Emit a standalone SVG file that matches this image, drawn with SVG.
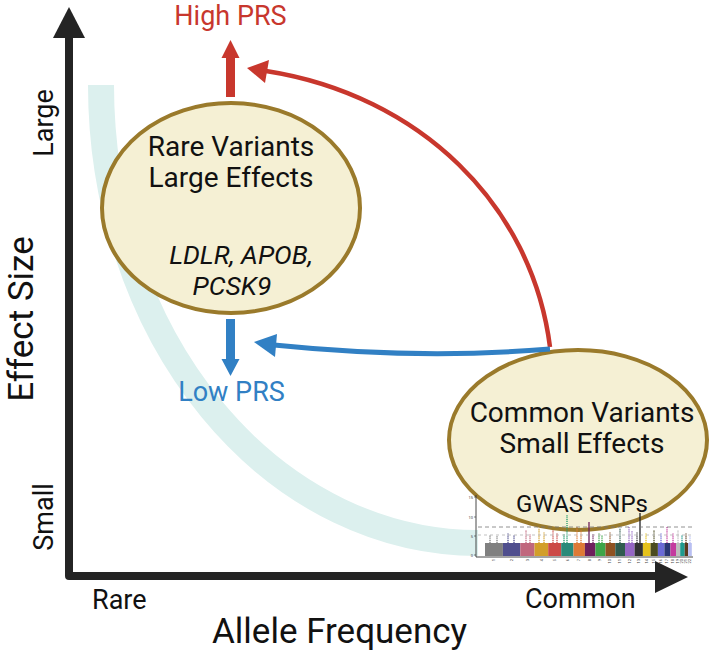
<svg xmlns="http://www.w3.org/2000/svg" width="717" height="651" viewBox="0 0 717 651">
<style>
  text { font-family: Roboto, "Liberation Sans", sans-serif; }
  .axis { fill: none; stroke: #242424; stroke-width: 8; stroke-linejoin: round; stroke-linecap: butt; }
  .axhead { fill: #242424; }
  .band { fill: none; stroke: #dcf0ee; stroke-width: 26; stroke-linecap: butt; }
  .node { fill: #f5f0d4; stroke: #9a7a2b; stroke-width: 4; }
  .lbl { fill: #111; font-size: 28px; text-anchor: middle; }
  .gene { fill: #111; font-size: 26.5px; font-style: italic; text-anchor: middle; }
  .axlbl { fill: #111; font-size: 27px; }
  .red { fill: #c8372d; }
  .blue { fill: #3180c4; }
  .redline { fill: none; stroke: #c8372d; stroke-width: 4.5; }
  .blueline { fill: none; stroke: #3180c4; stroke-width: 5; }
  .prs { font-size: 27px; text-anchor: middle; }
  .bar { stroke: none; }
  .dots { stroke-width: 1.3; stroke-dasharray: 1.2 0.9; fill: none; }
  .tick { font-size: 4px; fill: #444; }
</style>

<g id="effect-band">
  <path class="band" d="M 101 85 A 377 458 0 0 0 478 543"/>
</g>

<g id="axes">
  <path class="axis" d="M 69 36 L 69 576 L 658 576"/>
  <polygon class="axhead" points="69,7 85,38 53,38"/>
  <polygon class="axhead" points="688,577 655,561 655,593"/>
  <text transform="translate(33,319) rotate(-90)" font-size="35" fill="#111" text-anchor="middle">Effect Size</text>
  <text class="axlbl" transform="translate(53,123) rotate(-90)" text-anchor="middle">Large</text>
  <text class="axlbl" transform="translate(53,517) rotate(-90)" text-anchor="middle">Small</text>
  <text class="axlbl" x="92" y="609">Rare</text>
  <text class="axlbl" x="525" y="608">Common</text>
  <text x="212" y="643" font-size="35" fill="#111">Allele Frequency</text>
</g>

<g id="node-rare">
  <ellipse class="node" cx="231" cy="208" rx="129" ry="105"/>
  <text class="lbl" x="231" y="156">Rare Variants</text>
  <text class="lbl" x="231" y="187">Large Effects</text>
  <text class="gene" x="241" y="264">LDLR, APOB,</text>
  <text class="gene" x="232" y="295">PCSK9</text>
</g>

<g id="node-common">
  <ellipse class="node" cx="578" cy="440" rx="129" ry="90"/>
  <text class="lbl" x="582" y="422">Common Variants</text>
  <text class="lbl" x="582" y="453">Small Effects</text>
  <text x="582" y="512" font-size="24" fill="#111" text-anchor="middle">GWAS SNPs</text>
</g>

<g id="manhattan-plot">
  <g id="chrom-bars">
    <rect class="bar" x="485" y="543" width="17.9" height="13" fill="#808080"/>
    <rect class="bar" x="502.9" y="543" width="17.4" height="13" fill="#4f4e8e"/>
    <rect class="bar" x="520.3" y="543" width="14.2" height="13" fill="#c0677d"/>
    <rect class="bar" x="534.5" y="543" width="13.7" height="13" fill="#d29e2a"/>
    <rect class="bar" x="548.2" y="543" width="13" height="13" fill="#cc4a47"/>
    <rect class="bar" x="561.2" y="543" width="12.3" height="13" fill="#2a8a7a"/>
    <rect class="bar" x="573.5" y="543" width="11.4" height="13" fill="#df7a36"/>
    <rect class="bar" x="584.9" y="543" width="10.5" height="13" fill="#6e1f5c"/>
    <rect class="bar" x="595.4" y="543" width="10.1" height="13" fill="#3da548"/>
    <rect class="bar" x="605.5" y="543" width="9.8" height="13" fill="#8f5222"/>
    <rect class="bar" x="615.3" y="543" width="9.7" height="13" fill="#2f5b4f"/>
    <rect class="bar" x="625" y="543" width="9.6" height="13" fill="#9566c4"/>
    <rect class="bar" x="634.6" y="543" width="8.3" height="13" fill="#333333"/>
    <rect class="bar" x="642.9" y="543" width="7.7" height="13" fill="#e5c21b"/>
    <rect class="bar" x="650.6" y="543" width="7.3" height="13" fill="#4a4b1f"/>
    <rect class="bar" x="657.9" y="543" width="6.5" height="13" fill="#6a69d6"/>
    <rect class="bar" x="664.4" y="543" width="6" height="13" fill="#2a3675"/>
    <rect class="bar" x="670.4" y="543" width="5.6" height="13" fill="#c43a9e"/>
    <rect class="bar" x="676" y="543" width="4.2" height="13" fill="#bdbdbd"/>
    <rect class="bar" x="680.2" y="543" width="4.5" height="13" fill="#1e9a8e"/>
    <rect class="bar" x="684.7" y="543" width="3.4" height="13" fill="#5b3a1e"/>
    <rect class="bar" x="688.1" y="543" width="3.7" height="13" fill="#b8bff2"/>
  </g>
  <g id="snp-dots">
    <path class="dots" stroke="#808080" d="M490 543V535 M497 543V536"/>
    <path class="dots" stroke="#4f4e8e" d="M508 543V533 M514 543V535"/>
    <path class="dots" stroke="#c0677d" d="M526 543V530 M530 543V534"/>
    <path class="dots" stroke="#d29e2a" d="M539 543V528 M544 543V532"/>
    <path class="dots" stroke="#cc4a47" d="M553 543V530 M557 543V533"/>
    <path class="dots" stroke="#1f9a6a" d="M567 543V515 M564 543V534"/>
    <path class="dots" stroke="#df7a36" d="M577 543V527 M581 543V530"/>
    <path stroke="#6e1f5c" stroke-width="1.3" d="M589 543V522"/>
    <path class="dots" stroke="#6e1f5c" d="M593 543V534"/>
    <path class="dots" stroke="#3da548" d="M599 543V533 M602 543V535"/>
    <path class="dots" stroke="#8f5222" d="M610 543V532"/>
    <path class="dots" stroke="#2f5b4f" d="M620 543V528"/>
    <path class="dots" stroke="#9566c4" d="M629 543V527 M632 543V531"/>
    <path stroke="#222" stroke-width="1.3" d="M640 543V513"/>
    <path class="dots" stroke="#333" d="M637 543V532"/>
    <path class="dots" stroke="#e5c21b" d="M646 543V533"/>
    <path class="dots" stroke="#4a4b1f" d="M654 543V530"/>
    <path class="dots" stroke="#6a69d6" d="M661 543V533"/>
    <path class="dots" stroke="#c43a9e" d="M667 543V527"/>
    <path class="dots" stroke="#c43a9e" d="M673 543V533"/>
    <path class="dots" stroke="#bdbdbd" d="M678 543V530"/>
    <path class="dots" stroke="#1e9a8e" d="M682 543V535"/>
    <path class="dots" stroke="#5b3a1e" d="M686 543V533"/>
    <path class="dots" stroke="#b8bff2" d="M690 543V536"/>
  </g>
  <path d="M478 527H693" stroke="#777" stroke-width="0.8" stroke-dasharray="4 3" fill="none"/>
  <path d="M478 535H693" stroke="#999" stroke-width="0.6" stroke-dasharray="3 3" fill="none"/>
  <path d="M476 495V557H693" stroke="#333" stroke-width="0.9" fill="none"/>
  <path d="M474 497H476 M474 517H476 M474 536H476 M474 555H476" stroke="#333" stroke-width="0.6"/>
  <text class="tick" x="473" y="498.5" text-anchor="end">15</text>
  <text class="tick" x="473" y="518.5" text-anchor="end">10</text>
  <text class="tick" x="473" y="537.5" text-anchor="end">5</text>
  <text class="tick" x="473" y="556.5" text-anchor="end">0</text>
  <g id="chrom-labels" class="tick" font-size="3.5">
    <text transform="translate(495,559) rotate(-90)" text-anchor="end">1</text>
    <text transform="translate(513,559) rotate(-90)" text-anchor="end">2</text>
    <text transform="translate(529,559) rotate(-90)" text-anchor="end">3</text>
    <text transform="translate(543,559) rotate(-90)" text-anchor="end">4</text>
    <text transform="translate(556,559) rotate(-90)" text-anchor="end">5</text>
    <text transform="translate(569,559) rotate(-90)" text-anchor="end">6</text>
    <text transform="translate(580,559) rotate(-90)" text-anchor="end">7</text>
    <text transform="translate(591,559) rotate(-90)" text-anchor="end">8</text>
    <text transform="translate(601,559) rotate(-90)" text-anchor="end">9</text>
    <text transform="translate(611,559) rotate(-90)" text-anchor="end">10</text>
    <text transform="translate(621,559) rotate(-90)" text-anchor="end">11</text>
    <text transform="translate(631,559) rotate(-90)" text-anchor="end">12</text>
    <text transform="translate(640,559) rotate(-90)" text-anchor="end">13</text>
    <text transform="translate(648,559) rotate(-90)" text-anchor="end">14</text>
    <text transform="translate(655,559) rotate(-90)" text-anchor="end">15</text>
    <text transform="translate(662,559) rotate(-90)" text-anchor="end">16</text>
    <text transform="translate(668,559) rotate(-90)" text-anchor="end">17</text>
    <text transform="translate(674,559) rotate(-90)" text-anchor="end">18</text>
    <text transform="translate(679,559) rotate(-90)" text-anchor="end">19</text>
    <text transform="translate(683,559) rotate(-90)" text-anchor="end">20</text>
    <text transform="translate(687,559) rotate(-90)" text-anchor="end">21</text>
    <text transform="translate(691,559) rotate(-90)" text-anchor="end">22</text>
  </g>
</g>

<g id="connectors">
  <path class="redline" d="M 550 347 C 532 205 420 95 266 71"/>
  <polygon class="red" points="247,68 269,60 265,83"/>
  <path class="blueline" d="M 550 349 Q 420 360 274 345"/>
  <polygon class="blue" points="254,342 277,334 275,357"/>
  <rect class="red" x="226" y="57" width="9" height="40"/>
  <polygon class="red" points="230.5,40 239.5,58 221.5,58"/>
  <rect class="blue" x="226" y="319" width="9" height="41"/>
  <polygon class="blue" points="230.5,376 239.5,359 221.5,359"/>
</g>

<g id="prs-labels">
  <text class="prs red" x="230.5" y="25">High PRS</text>
  <text class="prs blue" x="231.5" y="401">Low PRS</text>
</g>
</svg>
